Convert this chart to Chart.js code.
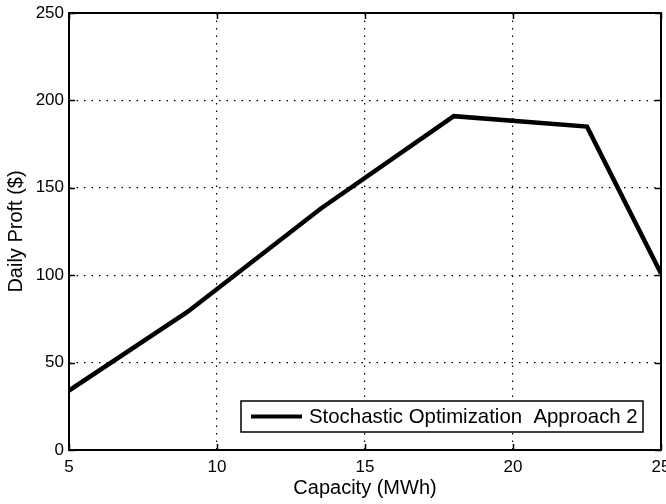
<!DOCTYPE html>
<html>
<head>
<meta charset="utf-8">
<script src="https://cdn.jsdelivr.net/npm/chart.js@4/dist/chart.umd.min.js"></script>
<style>
  html, body { margin: 0; padding: 0; background: #fff; }
  #wrap { width: 666px; height: 504px; }
</style>
</head>
<body>
<div id="wrap"><canvas id="c" width="666" height="504"></canvas></div>
<script>
// data
const capacity = [5, 9, 13.5, 18, 22.5, 25];
const profit = [34, 79, 138, 191, 185, 101];
const seriesLabel = 'Stochastic Optimization  Approach 2';
const xTicks = [5, 10, 15, 20, 25];
const yTicks = [0, 50, 100, 150, 200, 250];

const FONT = "'Liberation Sans', Arial, sans-serif";
Chart.defaults.font.family = FONT;
Chart.defaults.color = '#000';

// inside tick marks on all four sides + axes box + legend box
const frame = {
  id: 'frame',
  afterDraw(chart) {
    const { ctx, chartArea: a, scales: { x, y } } = chart;
    ctx.save();
    ctx.strokeStyle = '#000';
    ctx.lineWidth = 1.5;
    ctx.beginPath();
    xTicks.forEach(v => {
      const px = Math.round(x.getPixelForValue(v)) + 0.5;
      ctx.moveTo(px, a.bottom); ctx.lineTo(px, a.bottom - 6);
      ctx.moveTo(px, a.top); ctx.lineTo(px, a.top + 6);
    });
    yTicks.forEach(v => {
      const py = Math.round(y.getPixelForValue(v)) + 0.5;
      ctx.moveTo(a.left, py); ctx.lineTo(a.left + 6, py);
      ctx.moveTo(a.right, py); ctx.lineTo(a.right - 6, py);
    });
    ctx.stroke();
    ctx.lineWidth = 2;
    ctx.strokeRect(a.left, a.top, a.right - a.left, a.bottom - a.top);

    // legend
    const bx = 241, by = 401, bw = 402, bh = 31;
    ctx.fillStyle = '#fff';
    ctx.fillRect(bx, by, bw, bh);
    ctx.lineWidth = 1.5;
    ctx.strokeRect(bx, by, bw, bh);
    ctx.lineWidth = 4;
    ctx.beginPath();
    ctx.moveTo(251, by + bh / 2);
    ctx.lineTo(302, by + bh / 2);
    ctx.stroke();
    ctx.fillStyle = '#000';
    ctx.font = '20.4px ' + FONT;
    ctx.textBaseline = 'middle';
    ctx.fillText(chart.data.datasets[0].label, 309, by + bh / 2 + 1);
    ctx.restore();
  }
};

new Chart(document.getElementById('c'), {
  type: 'line',
  data: {
    datasets: [{
      label: seriesLabel,
      data: capacity.map((c, i) => ({ x: c, y: profit[i] })),
      borderColor: '#000',
      borderWidth: 4.5,
      pointRadius: 0,
      tension: 0,
      fill: false,
    }],
  },
  options: {
    responsive: false,
    animation: false,
    layout: { padding: { top: 13, right: 5, left: 0, bottom: 0 } },
    plugins: { legend: { display: false }, tooltip: { enabled: false } },
    scales: {
      x: {
        type: 'linear',
        min: 5, max: 25,
        afterBuildTicks: s => { s.ticks = xTicks.map(v => ({ value: v })); },
        afterFit: s => { s.height = 54; s.paddingLeft = 0; s.paddingRight = 0; },
        grid: { color: '#000', lineWidth: 1.2, drawTicks: false },
        border: { display: false, dash: [1.5, 6] },
        ticks: { font: { size: 17 }, padding: 7, maxRotation: 0 },
        title: { display: true, text: 'Capacity (MWh)', font: { size: 20 }, padding: { top: 0 } },
      },
      y: {
        min: 0, max: 250,
        afterBuildTicks: s => { s.ticks = yTicks.map(v => ({ value: v })); },
        afterFit: s => { s.width = 69; s.paddingTop = 0; s.paddingBottom = 0; },
        grid: { color: '#000', lineWidth: 1.2, drawTicks: false },
        border: { display: false, dash: [1.5, 6] },
        ticks: { font: { size: 17 }, padding: 5 },
        title: { display: true, text: 'Daily Proft ($)', font: { size: 20 }, padding: { bottom: 2 } },
      },
    },
  },
  plugins: [frame],
});
</script>
</body>
</html>
